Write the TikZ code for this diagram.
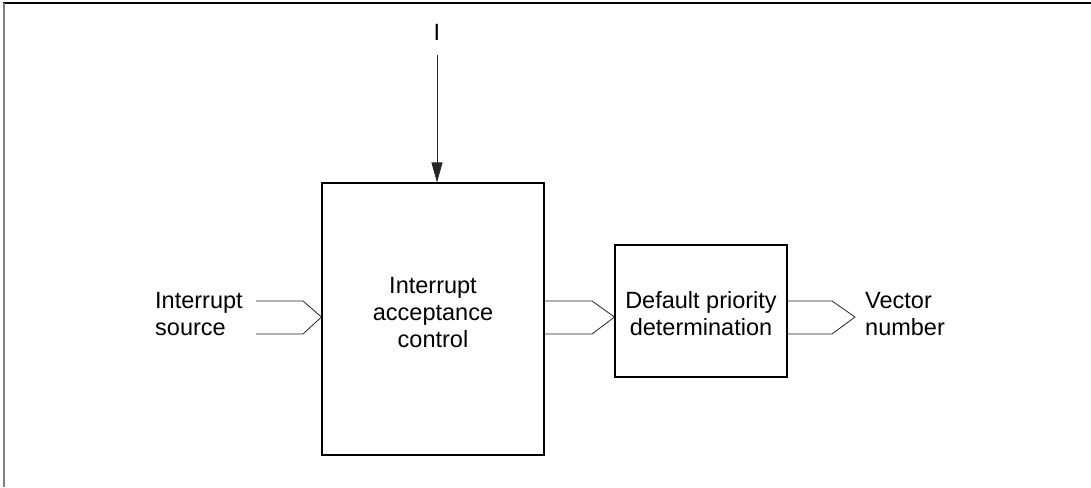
\documentclass[tikz,border=0pt]{standalone}
\usepackage{fontspec}
\setmainfont{Liberation Sans}
\usetikzlibrary{arrows.meta}
\begin{document}
\begin{tikzpicture}[x=1pt,y=-1pt,
  blk/.style={draw,line width=1.1pt,inner sep=0pt},
  lbl/.style={font=\fontsize{23.5}{27}\selectfont,align=center,inner sep=0pt},
  bus/.style={line width=0.8pt,draw=black!85}]
\useasboundingbox (0,0) rectangle (1091,487);
\draw[line width=2pt] (3,3) -- (1091,3);
\draw[line width=2pt,draw=black!50] (4,3) -- (4,487);
% boxes
\node[blk,minimum width=222pt,minimum height=272pt] (acc) at (433,319) {};
\node[blk,minimum width=172pt,minimum height=132pt] (pri) at (701,311) {};
\node[lbl] at (433,313) {Interrupt\\acceptance\\control};
\node[lbl] at (701,314) {Default priority\\determination};
% I arrow
\node[lbl] (I) at (437,32) {I};
\coordinate (Itop) at (437,55);
\draw[bus,-{Triangle[length=20pt,width=11pt]}] (Itop) -- (Itop |- acc.north);
% input
\node[lbl,align=left,anchor=west] (src) at (155,314) {Interrupt\\source};
\coordinate (t1) at (acc.west |- 0,317);
\draw[bus] (256,301) -- (303,301) -- (t1) -- (303,334) -- (256,334);
% middle
\coordinate (t2) at (pri.west |- 0,317);
\draw[bus] (acc.east |- 0,301) -- (592,301) -- (t2) -- (592,334) -- (acc.east |- 0,334);
% output
\coordinate (t3) at (855,317);
\draw[bus] (pri.east |- 0,301) -- (832,301) -- (t3) -- (832,334) -- (pri.east |- 0,334);
\node[lbl,align=left,anchor=west] (vec) at (865,314) {Vector\\number};
\end{tikzpicture}
\end{document}
